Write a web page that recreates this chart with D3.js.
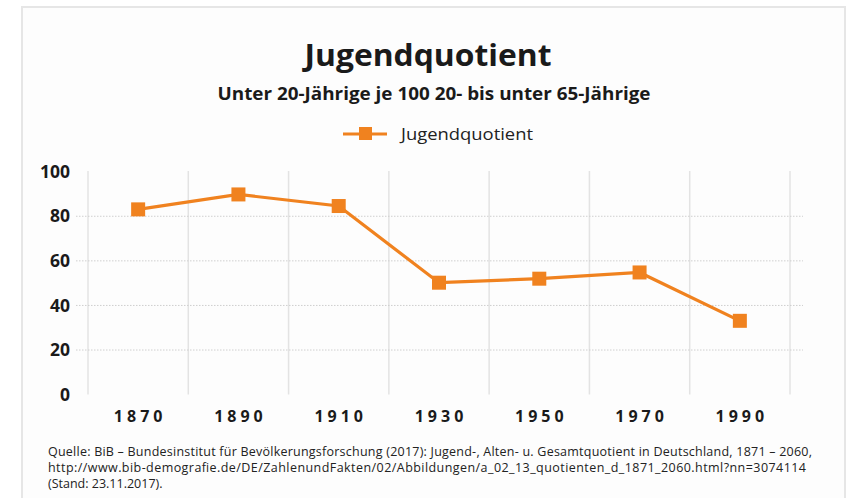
<!DOCTYPE html>
<html>
<head>
<meta charset="utf-8">
<script src="https://cdn.jsdelivr.net/npm/d3@7"></script>
<style>
body { margin: 0; background: #fff; }
text { font-family: "Open Sans", "DejaVu Sans", sans-serif; }
</style>
</head>
<body>
<div id="chart"></div>
<script>
// data
var years = ["1870", "1890", "1910", "1930", "1950", "1970", "1990"];
var jugendquotient = [83.1, 89.8, 84.6, 50.2, 52.0, 54.8, 33.1];
var yTicks = [0, 20, 40, 60, 80, 100];
var sourceLines = [
  "Quelle: BiB – Bundesinstitut für Bevölkerungsforschung (2017): Jugend-, Alten- u. Gesamtquotient in Deutschland, 1871 – 2060,",
  "http://www.bib-demografie.de/DE/ZahlenundFakten/02/Abbildungen/a_02_13_quotienten_d_1871_2060.html?nn=3074114",
  "(Stand: 23.11.2017)."
];

var W = 852, H = 498;
var orange = "#f0821f";

var svg = d3.select("#chart").append("svg").attr("width", W).attr("height", H);

// frame
svg.append("rect").attr("x", 22).attr("y", 7).attr("width", 823).attr("height", 520)
  .attr("fill", "#fdfdfd").attr("stroke", "#e6e6e6").attr("stroke-width", 2);

// titles
svg.append("text").attr("x", 428).attr("y", 66).attr("text-anchor", "middle")
  .style("font-size", "31px").style("font-weight", "bold").attr("fill", "#1a1a1a").text("Jugendquotient")
  .attr("textLength", 247).attr("lengthAdjust", "spacingAndGlyphs");
svg.append("text").attr("x", 434).attr("y", 100).attr("text-anchor", "middle")
  .style("font-size", "17px").style("font-weight", "bold").attr("fill", "#1a1a1a")
  .text("Unter 20-Jährige je 100 20- bis unter 65-Jährige")
  .attr("textLength", 433).attr("lengthAdjust", "spacingAndGlyphs");

// legend
var lg = svg.append("g");
lg.append("line").attr("x1", 343).attr("x2", 387).attr("y1", 134).attr("y2", 134)
  .attr("stroke", orange).attr("stroke-width", 3);
lg.append("rect").attr("x", 359).attr("y", 127).attr("width", 13).attr("height", 13).attr("fill", orange);
lg.append("text").attr("x", 401).attr("y", 139.5).style("font-size", "17px").attr("fill", "#222")
  .text("Jugendquotient").attr("textLength", 132).attr("lengthAdjust", "spacingAndGlyphs");

// scales
var x = d3.scaleBand().domain(years).range([88, 790]);
var y = d3.scaleLinear().domain([0, 100]).range([394.6, 171.7]);

// vertical grid at band edges
var edges = years.map(function (d) { return x(d); }).concat([x.range()[1]]);
svg.append("g").selectAll("line").data(edges).enter().append("line")
  .attr("x1", function (d) { return d; }).attr("x2", function (d) { return d; })
  .attr("y1", 171).attr("y2", 394.5)
  .attr("stroke", "#e3e3e3").attr("stroke-width", 1.5);

// horizontal dotted grid
svg.append("g").selectAll("line").data(yTicks.filter(function (d) { return d > 0 && d < 100; })).enter().append("line")
  .attr("x1", 76).attr("x2", 803)
  .attr("y1", function (d) { return y(d); }).attr("y2", function (d) { return y(d); })
  .attr("stroke", "#cfcfcf").attr("stroke-width", 1).attr("stroke-dasharray", "1.5,1.5");

// y axis labels
var yAxis = svg.append("g").attr("transform", "translate(70,0)")
  .call(d3.axisLeft(y).tickValues(yTicks).tickSize(0).tickPadding(0));
yAxis.select(".domain").remove();
yAxis.selectAll("text").style("font-size", "17.5px").style("font-weight", "bold")
  .style("font-family", "'Open Sans', sans-serif").attr("fill", "#1a1a1a");

// x axis labels
var xAxis = svg.append("g").attr("transform", "translate(0,411)")
  .call(d3.axisBottom(x).tickSize(0).tickPadding(0));
xAxis.select(".domain").remove();
xAxis.selectAll("text").style("font-size", "16px").style("font-weight", "bold")
  .style("font-family", "'Open Sans', sans-serif").style("letter-spacing", "4px").attr("fill", "#1a1a1a")
  .attr("dx", "2px");

// line + markers
var pts = years.map(function (d, i) { return [x(d) + x.bandwidth() / 2, y(jugendquotient[i])]; });
svg.append("path").datum(pts).attr("d", d3.line())
  .attr("fill", "none").attr("stroke", orange).attr("stroke-width", 3.2);
svg.append("g").selectAll("rect").data(pts).enter().append("rect")
  .attr("x", function (d) { return d[0] - 7; }).attr("y", function (d) { return d[1] - 7; })
  .attr("width", 14).attr("height", 14).attr("fill", orange);

// source
svg.append("g").selectAll("text").data(sourceLines).enter().append("text")
  .attr("x", 48).attr("y", function (d, i) { return 456 + i * 16; })
  .style("font-size", "12.5px").attr("fill", "#222").text(function (d) { return d; })
  .attr("textLength", function (d, i) { return [764, 758, null][i]; });
</script>
</body>
</html>
